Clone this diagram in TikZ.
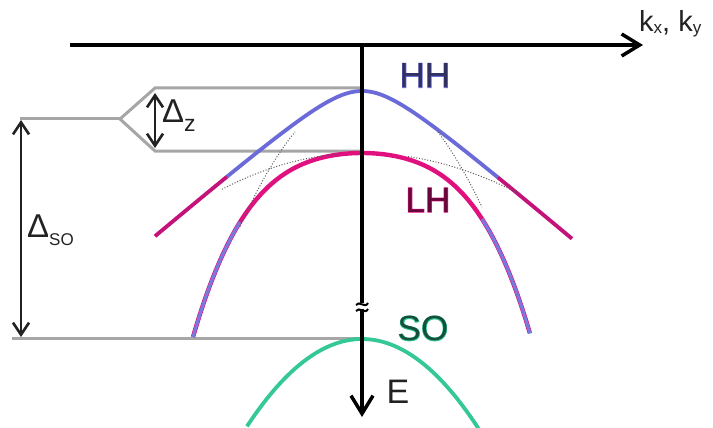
\documentclass[tikz,border=0pt]{standalone}
\usepackage{fontspec}
\setmainfont{Liberation Sans}
\newfontfamily\glowfont[FakeBold=3]{Liberation Sans}
\usetikzlibrary{arrows.meta}
\definecolor{hhblue}{RGB}{106,106,216}
\definecolor{lhmag}{RGB}{224,16,127}
\definecolor{hhout}{RGB}{196,18,122}
\definecolor{sogreen}{RGB}{51,200,150}
\definecolor{lvl}{RGB}{166,166,166}
\definecolor{ink}{RGB}{34,34,34}
\tikzset{
  axisline/.style={line width=3.5pt, black, -{Straight Barb[length=18pt,width=22pt]}},
  level/.style={line width=3pt, lvl, line join=miter},
  dimarrow/.style={line width=2.6pt, ink, {Straight Barb[length=12pt,width=16pt]}-{Straight Barb[length=12pt,width=16pt]}},
  band/.style={line width=3.8pt},
  guide/.style={line width=1pt, black!65, dash pattern=on 1pt off 1.8pt},
  lab/.style={inner sep=0pt, font=\fontsize{35}{35}\selectfont},
}
\begin{document}
\begin{tikzpicture}[x=1pt,y=-1pt]
\useasboundingbox (0,0) rectangle (713,428);
% named points
\coordinate (hhtop) at (362,88);
\coordinate (lhtop) at (362,151);
\coordinate (sotop) at (362,338);
\coordinate (fork) at (120,119);
\coordinate (fa) at (155,88);
\coordinate (fb) at (155,151);
\coordinate (lend) at (20,119);
\coordinate (soend) at (12,338);
% gray levels
\draw[level] (hhtop) -- (fa) -- (fork) -- (fb) -- (lhtop);
\draw[level] (fork) -- (lend);
\draw[level] (soend) -- (sotop);
% dimension arrows
\coordinate (dzt) at (155,93);
\coordinate (dzb) at (155,148);
\draw[dimarrow] (dzt) -- (dzb);
\coordinate (dst) at (21,120);
\coordinate (dsb) at (21,337);
\draw[dimarrow] (dst) -- (dsb);
% HH band
\draw[band, hhblue] plot[domain=-1.35:1.36, samples=80, smooth] ({362+100*\x}, {91+85*(sqrt(0.16+\x*\x)-0.4)});
\draw[band, hhout] plot[domain=-2.07:-1.35, samples=20, smooth] ({362+100*\x}, {91+85*(sqrt(0.16+\x*\x)-0.4)});
\draw[band, hhout] plot[domain=1.36:2.10, samples=20, smooth] ({362+100*\x}, {91+85*(sqrt(0.16+\x*\x)-0.4)});
% LH band
\draw[line width=4.4pt, lhmag] plot[domain=-1.69:1.68, samples=100, smooth] ({362+100*\x}, {153+26.85*\x*\x+13.16*\x*\x*\x*\x});
\draw[line width=3.2pt, hhblue!90!white] plot[domain=-1.69:-1.22, samples=30, smooth] ({362+100*\x}, {153+26.85*\x*\x+13.16*\x*\x*\x*\x});
\draw[line width=3.2pt, hhblue!90!white] plot[domain=1.20:1.68, samples=30, smooth] ({362+100*\x}, {153+26.85*\x*\x+13.16*\x*\x*\x*\x});
% guide (dotted) curves
\draw[guide] plot[domain=-1.22:-0.67, samples=20, smooth] ({362+100*\x}, {91+91*\x*\x});
\draw[guide] plot[domain=0.76:1.20, samples=20, smooth] ({362+100*\x}, {81.8+87*\x*\x});
\draw[guide] plot[domain=-1.40:-0.22, samples=30, smooth] ({362+100*\x}, {153+18.5*\x*\x});
\draw[guide] plot[domain=0.46:1.55, samples=30, smooth] ({362+100*\x}, {153+16.5*\x*\x});
% SO band
\draw[band, sogreen] plot[domain=-1.15:1.21, samples=60, smooth] ({362+100*\x}, {339+66*\x*\x});
% axes
\coordinate (hstart) at (70,45);
\coordinate (hend) at (643,45);
\coordinate (vstart) at (362,43);
\coordinate (vend) at (362,417);
\draw[axisline] (hstart) -- (hend);
\draw[axisline] (vstart) -- (vend);
% axis break
\fill[white] (357,303) rectangle (367,309);
\draw[line width=2pt, black] (356,305) .. controls (359,300) and (365,309) .. (368,303);
\draw[line width=2pt, black] (356,311) .. controls (359,306) and (365,315) .. (368,309);
% labels
\node[anchor=base west, inner sep=0pt, text=ink] (kxy) at (639,32)
  {\fontsize{29}{29}\selectfont k\raisebox{-1.5pt}{\fontsize{17}{17}\selectfont x}, k\raisebox{-1.5pt}{\fontsize{17}{17}\selectfont y}};
\node[anchor=base west, inner sep=0pt, text=ink] (dz) at (162,123)
  {\fontsize{33}{33}\selectfont Δ\raisebox{-9pt}{\fontsize{23}{23}\selectfont z}};
\node[anchor=base west, inner sep=0pt, text=ink] (dso) at (27,237)
  {\fontsize{33}{33}\selectfont Δ\raisebox{-8pt}{\fontsize{17}{17}\selectfont SO}};
\node[lab, text=hhblue] (hhglow) at (425,75.5) {\glowfont HH};
\node[lab, text=hhblue!45!black] (hh) at (425,75.5) {HH};
\node[lab, text=lhmag] (lhglow) at (428,200) {\glowfont LH};
\node[lab, text=lhmag!45!black] (lh) at (428,200) {LH};
\node[lab, text=sogreen] (soglow) at (423,328.5) {\glowfont SO};
\node[lab, text=sogreen!40!black] (so) at (423,328.5) {SO};
\node[lab, text=ink, font=\fontsize{34}{34}\selectfont] (E) at (398,392) {E};
\end{tikzpicture}
\end{document}
